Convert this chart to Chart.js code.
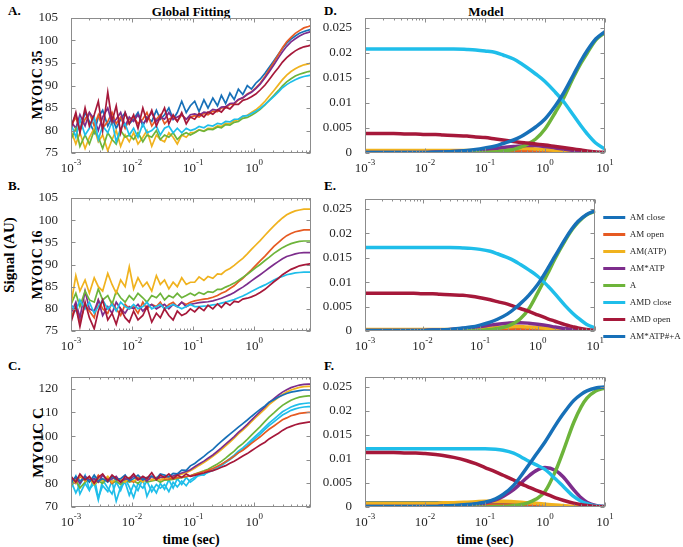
<!DOCTYPE html>
<html>
<head>
<meta charset="utf-8">
<script src="https://cdn.jsdelivr.net/npm/chart.js@4.4.1/dist/chart.umd.min.js"></script>
<style>
  body { margin: 0; width: 683px; height: 547px; overflow: hidden; background: #fff; position: relative;
         font-family: "Liberation Serif", "Times New Roman", serif; }
  canvas { position: absolute; }
  .lbl { position: absolute; font-weight: bold; color: #000; white-space: nowrap; line-height: 1; }
  .mid { transform: translate(-50%, -50%); }
  .rot { transform: translate(-50%, -50%) rotate(-90deg); }
</style>
</head>
<body>

<div class="lbl mid" style="left:191px;top:11px;font-size:13px;">Global Fitting</div>
<div class="lbl mid" style="left:486px;top:11px;font-size:13px;">Model</div>
<div class="lbl" style="left:8px;top:4px;font-size:13px;">A.</div>
<div class="lbl" style="left:8px;top:179px;font-size:13px;">B.</div>
<div class="lbl" style="left:8px;top:359px;font-size:13px;">C.</div>
<div class="lbl" style="left:324px;top:4px;font-size:13px;">D.</div>
<div class="lbl" style="left:324px;top:179px;font-size:13px;">E.</div>
<div class="lbl" style="left:324px;top:359px;font-size:13px;">F.</div>
<div class="lbl rot" style="left:38px;top:85px;font-size:14px;">MYO1C 35</div>
<div class="lbl rot" style="left:38px;top:265px;font-size:14px;">MYO1C 16</div>
<div class="lbl rot" style="left:38px;top:443px;font-size:15px;">MYO1C C</div>
<div class="lbl rot" style="left:9px;top:255px;font-size:15px;">Signal (AU)</div>
<div class="lbl mid" style="left:191px;top:540px;font-size:14px;">time (sec)</div>
<div class="lbl mid" style="left:485px;top:540px;font-size:14px;">time (sec)</div>

<canvas id="chartA"></canvas>
<canvas id="chartB"></canvas>
<canvas id="chartC"></canvas>
<canvas id="chartD"></canvas>
<canvas id="chartE"></canvas>
<canvas id="chartF"></canvas>

<script>
// Time points (sec)
const tFit = [0.001, 0.0012, 0.0014, 0.0017, 0.002, 0.0024, 0.0028, 0.0033, 0.004, 0.0047, 0.0055, 0.0065, 0.0077, 0.009,
  0.0106, 0.0125, 0.015, 0.0175, 0.021, 0.025, 0.029, 0.034, 0.04, 0.047, 0.055, 0.065, 0.077, 0.09,
  0.106, 0.125, 0.15, 0.175, 0.21, 0.25, 0.29, 0.34, 0.4, 0.47, 0.55, 0.65, 0.77, 0.9,
  1.06, 1.25, 1.5, 1.75, 2.1, 2.5, 2.9, 3.4, 4, 4.7, 5.5, 6.5, 7.7, 8.5];
const tModel = [0.001, 0.002, 0.003, 0.005, 0.007, 0.01, 0.015, 0.02, 0.03, 0.05, 0.07, 0.1, 0.15, 0.2,
  0.3, 0.4, 0.5, 0.7, 1, 1.5, 2, 3, 4, 5, 7, 10];

// Tick labels for the log time axis
const xMajor = [0.001, 0.01, 0.1, 1, 10];
const xExp = ['-3', '-2', '-1', '0', '1'];

// Model species (legend)
const species = ['AM close', 'AM open', 'AM(ATP)', 'AM*ATP', 'A', 'AMD close', 'AMD open', 'AM*ATP#+A'];

// Panel A - MYO1C 35 traces
const aBlue = [81, 83.5, 80, 84, 82, 79.5, 83, 84.5, 81, 83, 80.5, 82.5, 84, 81.5,
  82.5, 84, 81, 83, 82, 84.5, 82.5, 83.5, 85, 82.5, 84, 86.5, 84, 85.5,
  86.5, 84.2, 86.8, 85.0, 87.2, 85.5, 87.8, 86.0, 88.3, 86.9, 89.2, 88.0, 90.0, 89.2,
  90.5, 91.4, 92.7, 94.0, 95.5, 97.0, 98.2, 99.4, 100.3, 101.0, 101.6, 102.0, 102.3, 102.5];
const aOrange = [81, 83, 80, 82.5, 84, 81, 83.5, 80.5, 82, 84, 81.5, 83, 80.5, 82.5,
  83, 81.5, 82.5, 84, 81, 82.5, 83.5, 81.5, 82.5, 83, 82, 83.5, 82.5, 83,
  83.3, 83.0, 83.8, 83.5, 84.3, 84.2, 85.0, 85.0, 85.8, 85.9, 86.8, 87.2, 88.1, 88.6,
  89.5, 90.5, 92.0, 93.5, 95.2, 96.9, 98.4, 99.7, 100.7, 101.6, 102.2, 102.8, 103.1, 103.3];
const aPurple = [82, 80.5, 83.5, 81, 84, 82.5, 80, 83, 85, 81.5, 82.5, 84, 81, 83,
  82, 83.5, 81.5, 82.5, 84, 82, 83, 82.5, 84, 82.5, 83, 83.5, 82.5, 83.5,
  83.7, 83.4, 84.1, 83.9, 84.7, 84.5, 85.2, 85.3, 86.0, 86.1, 86.9, 87.3, 88.0, 88.5,
  89.3, 90.3, 91.7, 93.0, 94.6, 96.2, 97.5, 98.7, 99.7, 100.4, 101.0, 101.5, 101.8, 102.0];
const aCrimson = [80.5, 84, 79.5, 85, 81, 83.5, 86.5, 80, 88.5, 82, 85.5, 79.5, 84, 81.5,
  83.5, 80.5, 85, 82, 84.5, 81, 83, 85, 81.5, 83.5, 82, 84, 81.5, 83,
  82.5, 83.8, 83.0, 84.1, 83.6, 84.6, 84.1, 85.2, 84.8, 85.8, 85.8, 86.7, 87.0, 87.5,
  88.1, 89.0, 90.1, 91.3, 92.7, 94.0, 95.2, 96.2, 97.0, 97.7, 98.2, 98.6, 98.8, 99.0];
const aYellow = [80, 77, 79.5, 76, 78.5, 80.5, 77.5, 79, 75.5, 78, 80, 76.5, 79, 77.5,
  79.5, 77, 78.5, 80, 76.5, 79, 78, 77.5, 79.5, 78.5, 77, 79, 78.5, 79.5,
  79.6, 80.2, 79.9, 80.5, 80.4, 81.0, 80.9, 81.6, 81.5, 82.2, 82.4, 83.1, 83.4, 84.0,
  84.6, 85.4, 86.5, 87.6, 88.9, 90.2, 91.3, 92.3, 93.1, 93.7, 94.2, 94.6, 94.8, 95.0];
const aGreen = [78, 80.5, 76.5, 79, 77, 80, 78.5, 76, 79.5, 78, 77, 80, 78.5, 79,
  78, 79.5, 77.5, 79, 78.5, 80, 78, 79, 78.5, 79.5, 78, 79, 79.5, 79,
  79.5, 80.1, 79.8, 80.3, 80.2, 80.8, 80.6, 81.3, 81.2, 81.8, 82.0, 82.7, 82.9, 83.4,
  84.0, 84.7, 85.7, 86.7, 87.8, 88.9, 89.9, 90.8, 91.5, 92.1, 92.5, 92.8, 93.1, 93.2];
const aCyan = [81.5, 78.5, 82.5, 79, 80.5, 83, 78, 81, 79.5, 82, 77.5, 80.5, 81.5, 79,
  80.5, 78.5, 81.5, 79.5, 80, 81, 79, 80.5, 81, 79.5, 80.5, 79.5, 80.5, 80,
  80.3, 80.9, 80.6, 81.2, 81.0, 81.6, 81.4, 82.0, 81.9, 82.5, 82.5, 83.2, 83.3, 83.8,
  84.3, 84.9, 85.8, 86.6, 87.6, 88.6, 89.5, 90.2, 90.8, 91.3, 91.7, 92.0, 92.2, 92.3];

// Panel B - MYO1C 16 traces
const bYellow = [81, 87.5, 84, 86.5, 83.5, 87, 85, 84, 88, 85.5, 83.5, 86.5, 85, 89.5,
  84.5, 87, 85, 86, 84, 87.5, 85.5, 86.5, 84.5, 86, 85, 87, 85.5, 86,
  86.0, 87.2, 86.4, 87.3, 86.9, 87.9, 87.8, 88.6, 89.1, 89.8, 90.6, 91.4, 92.4, 93.4,
  94.4, 95.4, 96.6, 97.6, 98.7, 99.7, 100.5, 101.2, 101.7, 102.1, 102.3, 102.5, 102.5, 102.5];
const bOrange = [78, 80.5, 77, 81, 79.5, 78, 82, 80, 79, 81.5, 80, 78.5, 81, 80,
  80.5, 79, 81.5, 80, 81, 80.5, 81.5, 80, 81, 81.5, 80.5, 81.5, 81, 81.5,
  81.8, 82.0, 82.2, 82.3, 82.6, 83.0, 83.5, 83.9, 84.6, 85.2, 86.1, 86.9, 87.9, 88.8,
  89.8, 90.8, 91.9, 92.9, 94.1, 95.0, 95.8, 96.5, 97.0, 97.4, 97.6, 97.8, 97.8, 97.8];
const bGreen = [81, 83.5, 80.5, 84, 82, 81.5, 84.5, 82, 83, 81, 84, 82.5, 81.5, 83,
  82, 83.5, 82.5, 81.5, 83, 82.5, 83.5, 82, 83, 82.5, 83.5, 82.5, 83, 83.5,
  83.0, 83.7, 83.3, 83.9, 83.7, 84.4, 84.4, 84.9, 85.3, 85.8, 86.4, 87.1, 87.8, 88.5,
  89.3, 90.0, 90.9, 91.6, 92.5, 93.2, 93.8, 94.3, 94.7, 95.0, 95.2, 95.3, 95.3, 95.3];
const bPurple = [79, 81.5, 78, 84, 80, 79.5, 82, 78.5, 80.5, 79, 81.5, 80, 79, 80.5,
  80, 81, 79.5, 80.5, 81, 80, 80.5, 81, 80, 81, 80.5, 81.5, 80.5, 81,
  81.2, 81.4, 81.5, 81.6, 81.8, 82.1, 82.4, 82.8, 83.2, 83.7, 84.3, 84.9, 85.6, 86.3,
  87.0, 87.7, 88.5, 89.2, 90.0, 90.7, 91.3, 91.8, 92.1, 92.4, 92.6, 92.7, 92.7, 92.7];
const bCyan = [81, 79.5, 82, 80, 81.5, 79, 80.5, 82, 80, 81, 79.5, 81.5, 80.5, 80,
  81, 80, 80.5, 81.5, 80, 80.5, 81, 80, 80.5, 81, 80.5, 80, 80.5, 81,
  80.5, 80.5, 80.6, 80.7, 80.9, 81.0, 81.3, 81.5, 81.8, 82.1, 82.5, 82.9, 83.4, 83.9,
  84.4, 84.9, 85.4, 85.9, 86.5, 87.0, 87.3, 87.7, 87.9, 88.1, 88.2, 88.3, 88.3, 88.3];
const bCrimson = [77, 80.5, 76, 81.5, 78, 75.5, 79.5, 82, 77.5, 79, 76.5, 80, 78, 77,
  79.5, 77.5, 78.5, 80.5, 77, 79, 78, 80, 78.5, 77.5, 79.5, 78.5, 79, 80,
  79.3, 80.4, 79.6, 80.8, 80.0, 81.1, 80.3, 81.4, 80.8, 81.7, 81.5, 82.2, 82.4, 82.7,
  83.1, 83.7, 84.4, 85.2, 86.1, 86.9, 87.7, 88.3, 88.9, 89.3, 89.7, 89.9, 90.1, 90.2];

// Panel C - MYO1C C traces
const cBlue = [80, 83, 81, 82.5, 80.5, 83.5, 81, 82, 80.5, 83, 81.5, 82, 83.5, 81,
  82, 83.5, 81.5, 82.5, 83, 82, 84, 83.5, 82.8, 84.2, 84.0, 85.6, 85.5, 87.4,
  88.4, 89.9, 91.4, 92.9, 94.4, 96.3, 97.8, 99.3, 100.8, 102.3, 103.8, 105.3, 106.8, 108.3,
  109.8, 111.3, 112.8, 114.3, 115.4, 116.5, 117.3, 118.0, 118.6, 118.9, 119.2, 119.5, 119.5, 119.5];
const cPurple = [81, 82.5, 80, 83, 81.5, 82, 80.5, 83.5, 81, 82, 83, 80.5, 82, 81.5,
  83, 81.5, 82.5, 81, 83, 82, 82.5, 82.6, 82.9, 83.2, 83.8, 84.4, 85.0, 85.8,
  87.0, 88.2, 89.4, 90.6, 92.0, 93.6, 95.0, 96.6, 98.2, 99.8, 101.6, 103.2, 105.0, 106.8,
  108.6, 110.4, 112.4, 114.2, 115.8, 117.4, 118.6, 119.6, 120.5, 121.1, 121.6, 121.9, 122.0, 122.0];
const cYellow = [82, 80, 83.5, 81, 82.5, 79.5, 82, 81, 83, 80.5, 82, 81.5, 80.5, 82.5,
  81, 82, 80.5, 82.5, 81.5, 82, 81.5, 82.2, 82.5, 82.8, 83.3, 83.9, 84.5, 85.3,
  86.4, 87.6, 88.8, 90.0, 91.4, 92.9, 94.3, 95.9, 97.5, 99.1, 100.9, 102.5, 104.3, 106.1,
  107.9, 109.6, 111.5, 113.3, 114.9, 116.4, 117.6, 118.6, 119.5, 120.1, 120.6, 120.9, 121.0, 121.0];
const cGreen = [79, 81.5, 78, 80.5, 82, 79.5, 81, 80, 82.5, 80, 81, 79.5, 81.5, 80.5,
  81, 80, 82, 80.5, 81, 81.5, 80.5, 81.4, 81.5, 81.7, 82.1, 82.4, 82.8, 83.2,
  83.9, 84.6, 85.3, 86.0, 87.1, 88.2, 89.3, 90.7, 92.2, 93.6, 95.4, 96.8, 98.6, 100.4,
  102.2, 104.0, 106.2, 108.0, 109.8, 111.6, 113.0, 114.1, 115.2, 115.9, 116.5, 116.8, 117.0, 117.0];
const cOrange = [82.5, 80, 83, 81, 82, 80.5, 83.5, 81.5, 82, 80, 82.5, 81, 82, 81.5,
  80.5, 82.5, 81, 82, 81.5, 82.5, 81.5, 81.8, 81.9, 82.1, 82.4, 82.6, 82.9, 83.2,
  83.8, 84.4, 84.9, 85.5, 86.3, 87.2, 88.1, 89.2, 90.3, 91.5, 92.9, 94.0, 95.5, 96.9,
  98.3, 99.7, 101.5, 102.9, 104.3, 105.7, 106.9, 107.7, 108.6, 109.1, 109.6, 109.8, 110.0, 110.0];
const cCyan1 = [78, 83, 75.5, 80, 77, 82.5, 74, 79, 76.5, 81, 72.5, 78.5, 80.5, 75,
  79.5, 77, 82, 74.5, 79, 76, 80, 77.5, 81.5, 78, 82, 79.5, 82.5, 80.5,
  81.9, 83.8, 83.5, 85.0, 85.6, 86.9, 87.8, 89.2, 90.5, 91.9, 93.6, 95.0, 96.7, 98.4,
  100.1, 101.8, 103.8, 105.5, 107.2, 108.9, 110.3, 111.3, 112.3, 113.0, 113.5, 113.8, 114.0, 114.0];
const cCyan2 = [81, 76, 79.5, 83.5, 77.5, 80, 73, 81.5, 78, 75.5, 80.5, 77, 82, 78.5,
  74, 80, 78, 81, 76.5, 79.5, 78, 79.5, 76.5, 80.5, 78.5, 81, 79, 81.5,
  82.6, 83.3, 83.9, 84.6, 85.5, 86.5, 87.5, 88.8, 90.1, 91.4, 93.0, 94.3, 95.9, 97.6,
  99.2, 100.8, 102.8, 104.4, 106.0, 107.6, 108.9, 109.9, 110.9, 111.5, 112.0, 112.3, 112.5, 112.5];
const cCrimson = [83, 80.5, 84, 81.5, 83, 80, 82.5, 84, 81, 83.5, 82, 80.5, 83, 82,
  84, 81.5, 83, 82, 84.5, 81.5, 83.5, 82.5, 84, 82, 83.5, 82.5, 84, 83,
  83.4, 83.9, 84.4, 84.9, 85.4, 86.1, 86.8, 87.5, 88.5, 89.4, 90.4, 91.6, 92.6, 93.8,
  95.0, 96.2, 97.4, 98.8, 100.0, 101.2, 102.4, 103.4, 104.1, 104.8, 105.3, 105.6, 105.9, 106.0];

// Panel D - model, MYO1C 35
const dAmClose = [.0002, .0002, .0002, .0002, .0002, .0002, .0002, .0002, .0002, .0002, .0002, .0002, .0002, .0002, .0002, .0002, .0002, .0002, .0002, .0001, .0001, .0001, .0001, 0, 0, 0];
const dAmOpen = [.0002, .0002, .0002, .0002, .0002, .0002, .0002, .0002, .0002, .0002, .0003, .0003, .0004, .0004, .0005, .0005, .0005, .0005, .0004, .0003, .0003, .0002, .0001, .0001, 0, 0];
const dAmAtp = [.0005, .0005, .0005, .0005, .0005, .0005, .0005, .0005, .0005, .0005, .0005, .0006, .0007, .0008, .0009, .0009, .0009, .0008, .0007, .0005, .0004, .0002, .0001, .0001, 0, 0];
const dAmStarAtp = [.0001, .0001, .0001, .0001, .0001, .0001, .0002, .0002, .0003, .0004, .0005, .0007, .0009, .0011, .0013, .0014, .0015, .0015, .0013, .001, .0008, .0005, .0003, .0002, .0001, 0];
const dA = [0, 0, 0, 0, 0, 0, 0, 0, 0, 0, .0001, .0001, .0002, .0004, .0007, .0012, .0017, .0028, .0048, .0082, .0108, .0152, .018, .0199, .0226, .0241];
const dAmdClose = [.0208, .0208, .0208, .0208, .0208, .0208, .0208, .0208, .0208, .0207, .0206, .0204, .0201, .0196, .0188, .0179, .0171, .0158, .0143, .0121, .0104, .0075, .0054, .0039, .002, .0008];
const dAmdOpen = [.0039, .0039, .0039, .0038, .0038, .0037, .0037, .0036, .0035, .0034, .0032, .0031, .0028, .0026, .0023, .0021, .002, .0018, .0016, .0013, .0011, .0008, .0006, .0004, .0002, .0001];
const dAmStarAtpA = [.0001, .0001, .0001, .0001, .0001, .0001, .00015, .0002, .0003, .0005, .0007, .001, .0014, .0019, .0026, .0033, .004, .0052, .0068, .0095, .0118, .0157, .0185, .0204, .0228, .0243];

// Panel E - model, MYO1C 16
const eAmClose = [.0001, .0001, .0001, .0001, .0001, .0001, .0001, .0001, .0001, .0001, .0001, .0001, .0001, .0001, .0001, .0001, .0001, .0001, .0001, .0001, .0001, 0, 0, 0, 0, 0];
const eAmOpen = [.0001, .0001, .0001, .0001, .0001, .0001, .0001, .0001, .0001, .0001, .0001, .0002, .0002, .0003, .0003, .0004, .0004, .0004, .0003, .0003, .0002, .0001, .0001, 0, 0, 0];
const eAmAtp = [.0003, .0003, .0003, .0003, .0003, .0003, .0003, .0003, .0003, .0004, .0004, .0005, .0006, .0007, .0008, .0009, .0009, .0008, .0007, .0005, .0004, .0002, .0001, .0001, 0, 0];
const eAmStarAtp = [.0001, .0001, .0001, .0001, .0001, .0001, .0002, .0002, .0003, .0005, .0007, .0009, .0012, .0014, .0016, .0017, .0017, .0016, .0014, .0011, .0008, .0005, .0003, .0002, .0001, 0];
const eA = [0, 0, 0, 0, 0, 0, 0, 0, 0, 0, .0001, .0001, .0003, .0005, .001, .0017, .0025, .0045, .0078, .0118, .0148, .0185, .0208, .0222, .0237, .0245];
const eAmdClose = [.0171, .0171, .0171, .0171, .0171, .0171, .0171, .0171, .0171, .017, .0169, .0167, .0163, .0158, .015, .0143, .0136, .0125, .0112, .0092, .0076, .0052, .0037, .0027, .0014, .0006];
const eAmdOpen = [.0077, .0077, .0077, .0077, .0077, .0076, .0076, .0075, .0074, .0073, .0071, .0068, .0064, .006, .0055, .005, .0046, .004, .0033, .0025, .002, .0013, .0009, .0006, .0003, .0001];
const eAmStarAtpA = [.0001, .0001, .0001, .0001, .0001, .0001, .0002, .0002, .0003, .0006, .0008, .0012, .0018, .0024, .0035, .0046, .0056, .0073, .0095, .0128, .0153, .0188, .021, .0224, .0238, .0246];

// Panel F - model, MYO1C C
const fAmClose = [.0009, .0009, .0009, .0009, .0009, .0009, .0009, .0009, .0009, .0009, .0009, .0009, .0009, .0008, .0008, .0007, .0006, .0005, .0004, .0002, .0001, 0, 0, 0, 0, 0];
const fAmOpen = [.0004, .0004, .0004, .0004, .0004, .0004, .0004, .0004, .0004, .0004, .0004, .0004, .0004, .0004, .0004, .0004, .0003, .0003, .0002, .0002, .0001, .0001, 0, 0, 0, 0];
const fAmAtp = [.0008, .0008, .0008, .0008, .0008, .0008, .0008, .0009, .0009, .001, .0011, .0012, .0012, .0012, .0011, .001, .0009, .0008, .0006, .0004, .0003, .0001, .0001, 0, 0, 0];
const fAmStarAtp = [.0001, .0001, .0001, .0001, .0001, .0001, .0001, .0002, .0002, .0004, .0006, .0009, .0015, .0022, .0036, .005, .0061, .0075, .0082, .0076, .0063, .0036, .0019, .001, .0003, .0001];
const fA = [0, 0, 0, 0, 0, 0, 0, 0, 0, 0, 0, 0, .0001, .0001, .0003, .0005, .0008, .0016, .0032, .0075, .0115, .0175, .0208, .0226, .0241, .0247];
const fAmdClose = [.0121, .0121, .0121, .0121, .0121, .0121, .0121, .0121, .0121, .0121, .0121, .0121, .012, .0118, .0112, .0104, .0097, .0088, .0078, .0058, .0043, .0022, .0012, .0007, .0002, .0001];
const fAmdOpen = [.0113, .0113, .0113, .0112, .0112, .0111, .0109, .0107, .0103, .0096, .009, .0082, .0073, .0066, .0056, .0048, .0043, .0035, .0028, .0019, .0014, .0008, .0005, .0003, .0001, 0];
const fAmStarAtpA = [.0001, .0001, .0001, .0001, .0001, .0001, .0001, .0002, .0003, .0005, .0007, .001, .0017, .0026, .0045, .0065, .0082, .0108, .0135, .017, .0193, .0221, .0234, .0241, .0247, .0249];

// line colours, as they appear in the figure
const BLUE = '#1770B8', ORANGE = '#E65A22', YELLOW = '#F0B21E', PURPLE = '#7D2D8C',
      GREEN = '#6DB43A', CYAN = '#1FBEEA', CRIMSON = '#A6183A';
const speciesColors = [BLUE, ORANGE, YELLOW, PURPLE, GREEN, CYAN, CRIMSON, BLUE];

const FONT = '"Liberation Serif", "Times New Roman", serif';
const AXIS_GRAY = '#8c8c8c';
const TEXT = '#262626';

// box around the axes, inward ticks, and 10^n labels
const frame = {
  id: 'frame',
  afterDraw(chart) {
    const { ctx, chartArea: a } = chart;
    const x = chart.scales.x, y = chart.scales.y;
    const L = Math.round(a.left) + 0.5, R = Math.round(a.right) - 0.5;
    const T = Math.round(a.top) + 0.5, B = Math.round(a.bottom) - 0.5;
    ctx.save();
    ctx.strokeStyle = AXIS_GRAY;
    ctx.lineWidth = 1;
    ctx.strokeRect(L, T, R - L, B - T);
    ctx.beginPath();
    xMajor.forEach(d => {
      for (let m = 1; m < 10; m++) {
        const v = d * m;
        if (v < x.min * 0.999 || v > x.max * 1.001) continue;
        const px = Math.round(x.getPixelForValue(v)) + 0.5;
        const len = m === 1 ? 4 : 2;
        ctx.moveTo(px, B); ctx.lineTo(px, B - len);
        ctx.moveTo(px, T); ctx.lineTo(px, T + len);
      }
    });
    y.ticks.forEach(t => {
      const py = Math.round(y.getPixelForValue(t.value)) + 0.5;
      ctx.moveTo(L, py); ctx.lineTo(L + 4, py);
      ctx.moveTo(R, py); ctx.lineTo(R - 4, py);
    });
    ctx.stroke();

    ctx.fillStyle = TEXT;
    ctx.textBaseline = 'alphabetic';
    ctx.textAlign = 'left';
    xMajor.forEach((v, i) => {
      if (v < x.min * 0.999 || v > x.max * 1.001) return;
      const px = x.getPixelForValue(v);
      ctx.font = '13px ' + FONT;
      const w1 = ctx.measureText('10').width;
      ctx.font = '9px ' + FONT;
      const w2 = ctx.measureText(xExp[i]).width;
      const x0 = px - (w1 + w2) / 2;
      ctx.font = '13px ' + FONT;
      ctx.fillText('10', x0, a.bottom + 19);
      ctx.font = '9px ' + FONT;
      ctx.fillText(xExp[i], x0 + w1, a.bottom + 12);
    });
    ctx.restore();
  }
};

function makeChart(id, geo, yOpt, series, lineW, smooth, withLegend) {
  const el = document.getElementById(id);
  el.width = geo.w; el.height = geo.h;
  el.style.left = geo.left + 'px'; el.style.top = geo.top + 'px';
  el.style.width = geo.w + 'px'; el.style.height = geo.h + 'px';

  const datasets = series.map((s, i) => ({
    label: s.label,
    data: s.t.map((t, k) => ({ x: t, y: s.v[k] })),
    borderColor: s.color,
    backgroundColor: s.color,
    borderWidth: lineW,
    pointRadius: 0,
    fill: false,
    tension: smooth ? 0.4 : 0,
    cubicInterpolationMode: smooth ? 'monotone' : 'default',
    order: series.length - i
  }));

  return new Chart(el, {
    type: 'line',
    data: { datasets },
    options: {
      responsive: false,
      animation: false,
      devicePixelRatio: 1,
      layout: { padding: { top: 8, right: geo.pr, bottom: 0, left: 0 } },
      plugins: {
        tooltip: { enabled: false },
        legend: withLegend ? {
          display: true,
          position: 'right',
          onClick: null,
          labels: {
            boxWidth: 22,
            boxHeight: 3,
            padding: 8,
            color: TEXT,
            font: { family: FONT, size: 9 },
            sort: (a, b) => a.datasetIndex - b.datasetIndex,
            generateLabels: chart => Chart.defaults.plugins.legend.labels.generateLabels(chart)
              .map(l => Object.assign(l, { lineWidth: 0 }))
          }
        } : { display: false }
      },
      scales: {
        x: {
          type: 'logarithmic',
          min: 0.001,
          max: geo.xmax,
          ticks: { display: false },
          grid: { display: false },
          border: { display: false },
          afterFit: s => { s.height = 24; s.paddingLeft = 0; s.paddingRight = 0; }
        },
        y: {
          min: yOpt.min,
          max: yOpt.max,
          ticks: {
            stepSize: yOpt.step,
            includeBounds: false,
            padding: 5,
            color: TEXT,
            font: { family: FONT, size: 13 },
            callback: v => String(Number(Number(v).toFixed(3)))
          },
          grid: { display: false },
          border: { display: false },
          afterFit: s => { s.width = geo.yw; s.paddingTop = 0; s.paddingBottom = 0; }
        }
      }
    },
    plugins: [frame]
  });
}

const s = (label, color, t, v) => ({ label, color, t, v });

// Left column: fitted traces (last listed is drawn on top)
makeChart('chartA', { left: 30, top: 10, w: 285, h: 167, yw: 41, pr: 4, xmax: 8.5 },
  { min: 75, max: 105, step: 5 },
  [s('', BLUE, tFit, aBlue), s('', ORANGE, tFit, aOrange), s('', PURPLE, tFit, aPurple),
   s('', YELLOW, tFit, aYellow), s('', GREEN, tFit, aGreen), s('', CYAN, tFit, aCyan),
   s('', CRIMSON, tFit, aCrimson)], 1.7, false, false);

makeChart('chartB', { left: 30, top: 190, w: 285, h: 165, yw: 41, pr: 4, xmax: 8.5 },
  { min: 75, max: 105, step: 5 },
  [s('', ORANGE, tFit, bOrange), s('', PURPLE, tFit, bPurple), s('', GREEN, tFit, bGreen),
   s('', CYAN, tFit, bCyan), s('', CRIMSON, tFit, bCrimson), s('', YELLOW, tFit, bYellow)], 1.7, false, false);

makeChart('chartC', { left: 30, top: 369, w: 285, h: 162, yw: 41, pr: 4, xmax: 8.5 },
  { min: 70, max: 125, step: 10 },
  [s('', CYAN, tFit, cCyan1), s('', CYAN, tFit, cCyan2), s('', GREEN, tFit, cGreen),
   s('', ORANGE, tFit, cOrange), s('', YELLOW, tFit, cYellow), s('', PURPLE, tFit, cPurple),
   s('', BLUE, tFit, cBlue), s('', CRIMSON, tFit, cCrimson)], 1.7, false, false);

// Right column: kinetic model
const modelSets = vals => vals.map((v, i) => s(species[i], speciesColors[i], tModel, v));

makeChart('chartD', { left: 320, top: 10, w: 299, h: 167, yw: 45, pr: 14, xmax: 10 },
  { min: 0, max: 0.027, step: 0.005 },
  modelSets([dAmClose, dAmOpen, dAmAtp, dAmStarAtp, dA, dAmdClose, dAmdOpen, dAmStarAtpA]), 3.5, true, false);

makeChart('chartE', { left: 320, top: 191, w: 367, h: 164, yw: 45, pr: 0, xmax: 10 },
  { min: 0, max: 0.027, step: 0.005 },
  modelSets([eAmClose, eAmOpen, eAmAtp, eAmStarAtp, eA, eAmdClose, eAmdOpen, eAmStarAtpA]), 3.5, true, true);

makeChart('chartF', { left: 320, top: 369, w: 299, h: 162, yw: 45, pr: 14, xmax: 10 },
  { min: 0, max: 0.027, step: 0.005 },
  modelSets([fAmClose, fAmOpen, fAmAtp, fAmStarAtp, fA, fAmdClose, fAmdOpen, fAmStarAtpA]), 3.5, true, false);
</script>
</body>
</html>
